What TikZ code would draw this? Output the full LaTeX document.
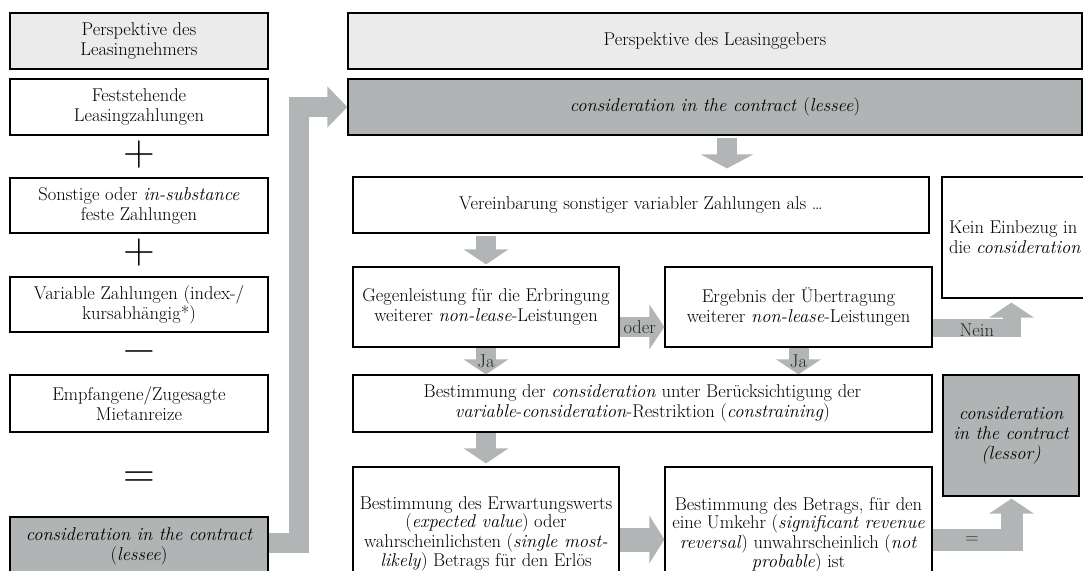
\documentclass[tikz,border=0pt]{standalone}
\usepackage{fontspec}
\usetikzlibrary{arrows.meta,calc}

\definecolor{hdrgray}{RGB}{235,235,235}
\definecolor{boxgray}{RGB}{177,180,180}
\definecolor{arrgray}{RGB}{178,181,181}
\newcommand\boxfont{\fontsize{18.5}{20}\selectfont}
\newcommand\tightfont{\fontsize{18.5}{18}\selectfont}
\newcommand\opfont{\fontsize{44}{44}\selectfont}

\tikzset{
  box/.style={draw=black, line width=1.2pt, align=center, inner sep=0pt, font=\boxfont},
  hdrbox/.style={box, fill=hdrgray},
  resbox/.style={box, fill=boxgray, font=\boxfont\itshape},
  blockarrow/.style={draw=arrgray, line width=20pt, line join=miter, -{Triangle[width=44pt,length=15pt]}},
  arrlabel/.style={font=\boxfont, text=black!85, inner sep=1pt},
  opsign/.style={font=\opfont, inner sep=0pt}
}

\begin{document}
\begin{tikzpicture}[x=1pt, y=-1pt]
\useasboundingbox (0,0) rectangle (1083,570);

%%%%%%%%% lessee column
\node[hdrbox, minimum width=258pt, minimum height=56pt] (hdrL) at (139,41) {Perspektive des\\Leasingnehmers};
\node[box, minimum width=258pt, minimum height=56pt] (fixL) at (139,107) {Feststehende\\Leasingzahlungen};
\node[opsign] (plusA) at (139,155) {+};
\node[box, minimum width=258pt, minimum height=55pt] (subL) at (139,205.5) {Sonstige oder \textit{in-substance}\\feste Zahlungen};
\node[opsign] (plusB) at (139,253) {+};
\node[box, minimum width=258pt, minimum height=55pt] (varL) at (139,304.5) {Variable Zahlungen (index-/\\kursabhängig*)};
\node[opsign] (minusA) at (139,357) {−};
\node[box, minimum width=258pt, minimum height=57pt] (incL) at (139,403.5) {Empfangene/Zugesagte\\Mietanreize};
\node[opsign] (eqA) at (139,480) {=};
\node[resbox, minimum width=258pt, minimum height=58pt] (lesseeL) at (139,546) {consideration in the contract\\\textup{(}lessee\textup{)}};

%%%%%%%%% lessor side
\node[hdrbox, minimum width=734pt, minimum height=56pt] (hdrR) at (715,41) {Perspektive des Leasinggebers};
\node[resbox, minimum width=734pt, minimum height=56pt] (considR) at (715,107) {consideration in the contract \textup{(}lessee\textup{)}};
\node[box, minimum width=576pt, minimum height=56pt] (agreeR) at (641,205) {Vereinbarung sonstiger variabler Zahlungen als~\dots};
\node[box, align=left, minimum width=146pt, minimum height=121pt] (noneR) at (1015,237.5) {Kein Einbezug in\\die \textit{consideration}};
\node[box, minimum width=266pt, minimum height=80pt] (svcR) at (486,307) {Gegenleistung für die Erbringung\\weiterer \textit{non-lease}-Leistungen};
\node[box, minimum width=267pt, minimum height=80pt] (xferR) at (798.5,307) {Ergebnis der Übertragung\\weiterer \textit{non-lease}-Leistungen};
\node[box, minimum width=579pt, minimum height=57pt] (detR) at (642.5,403.5) {Bestimmung der \textit{consideration} unter Berücksichtigung der\\\textit{variable}-\textit{consideration}-Restriktion (\textit{constraining})};
\node[resbox, minimum width=136pt, minimum height=121pt] (lessorR) at (1011,435.5) {consideration\\in the contract\\(lessor)};
\node[box, font=\tightfont, minimum width=266pt, minimum height=134pt] (expR) at (486,534) {Bestimmung des Erwartungswerts\\(\textit{expected value}) oder\\wahrscheinlichsten (\textit{single most-}\\\textit{likely}) Betrags für den Erlös};
\node[box, font=\tightfont, minimum width=267pt, minimum height=136pt] (betR) at (798.5,535) {Bestimmung des Betrags, für den\\eine Umkehr (\textit{significant revenue}\\\textit{reversal}) unwahrscheinlich (\textit{not}\\\textit{probable}) ist};

%%%%%%%%% block arrows
\coordinate (bendL) at (299,542.5);
\coordinate (colA) at (727,0);
\coordinate (colB) at (1011.5,0);

\draw[blockarrow, -{Triangle[width=40pt,length=20pt]}] (lesseeL.east |- bendL) -- (bendL) |- (considR.west);
\draw[blockarrow, shorten <=2pt, shorten >=8pt, -{Triangle[width=52pt,length=14pt]}] (considR.south -| colA) -- (agreeR.north -| colA);
\draw[blockarrow, shorten <=2pt, shorten >=2pt] (agreeR.south -| svcR.north) -- (svcR.north);
\draw[blockarrow] ($(svcR.east)+(0,20)$) -- ($(xferR.west)+(0,20)$) node[arrlabel, pos=0.45] (oderA) {oder};
\draw[blockarrow, line width=18pt, shorten >=4pt] ($(xferR.east)+(0,21)$) -| (noneR.south -| colB) node[arrlabel, pos=0.28, yshift=-2pt] (neinA) {Nein};
\draw[blockarrow] (svcR.south) -- (detR.north -| svcR.south) node[arrlabel, midway] (jaA) {Ja};
\draw[blockarrow] (xferR.south) -- (detR.north -| xferR.south) node[arrlabel, midway] (jaB) {Ja};
\draw[blockarrow, shorten >=3pt] (detR.south -| expR.north) -- (expR.north);
\draw[blockarrow, line width=24pt, -{Triangle[width=47pt,length=15pt]}] (expR.east |- 0,539.5) -- (betR.west |- 0,539.5);
\draw[blockarrow, line width=22pt, shorten >=2pt] (betR.east |- 0,540) -| (lessorR.south -| colB) node[arrlabel, pos=0.25] (eqB) {=};

\end{tikzpicture}
\end{document}
